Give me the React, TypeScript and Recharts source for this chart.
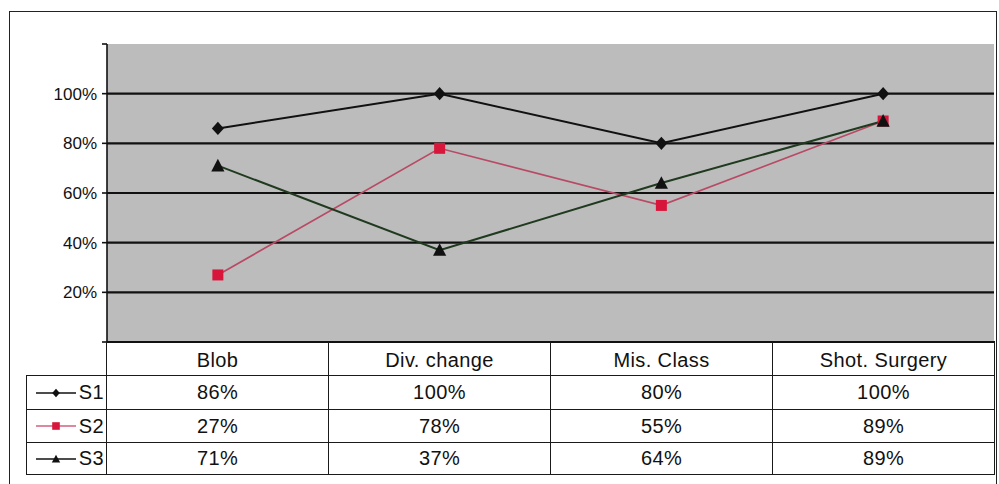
import React from 'react';
import { LineChart, Line, XAxis, YAxis, CartesianGrid, ReferenceLine } from 'recharts';

const categories = ['Blob', 'Div. change', 'Mis. Class', 'Shot. Surgery'];
const s1 = [0.86, 1.0, 0.8, 1.0];
const s2 = [0.27, 0.78, 0.55, 0.89];
const s3 = [0.71, 0.37, 0.64, 0.89];
const yTicks = [0, 0.2, 0.4, 0.6, 0.8, 1.0, 1.2];
const gridTicks = [0.2, 0.4, 0.6, 0.8, 1.0];

const FONT = '"Liberation Sans", Arial, sans-serif';

type Shape = 'diamond' | 'square' | 'triangle';

const series: { key: string; name: string; values: number[]; stroke: string; marker: Shape; markerFill: string }[] = [
  { key: 's1', name: 'S1', values: s1, stroke: '#111', marker: 'diamond', markerFill: '#111' },
  { key: 's2', name: 'S2', values: s2, stroke: '#b84a66', marker: 'square', markerFill: '#d8163c' },
  { key: 's3', name: 'S3', values: s3, stroke: '#1f3a1f', marker: 'triangle', markerFill: '#111' },
];

const data = categories.map((c, i) => ({
  name: c,
  s1: s1[i],
  s2: s2[i],
  s3: s3[i],
}));

const pct = (v: number) => `${Math.round(v * 100)}%`;

const Marker = ({ cx, cy, shape, fill, r }: { cx: number; cy: number; shape: Shape; fill: string; r: number }) => {
  if (shape === 'diamond') {
    return <polygon points={`${cx},${cy - r * 1.1} ${cx + r},${cy} ${cx},${cy + r * 1.1} ${cx - r},${cy}`} fill={fill} />;
  }
  if (shape === 'square') {
    return <rect x={cx - r} y={cy - r} width={r * 2} height={r * 2} fill={fill} />;
  }
  return <polygon points={`${cx},${cy - r * 1.15} ${cx + r * 1.1},${cy + r * 0.95} ${cx - r * 1.1},${cy + r * 0.95}`} fill={fill} />;
};

const makeDot = (shape: Shape, fill: string) => (props: any) => {
  const { cx, cy, index } = props;
  if (cx == null || cy == null) return <g key={index} />;
  return <Marker key={index} cx={cx} cy={cy} shape={shape} fill={fill} r={shape === 'square' ? 5.5 : 6} />;
};

const border = '1.6px solid #1a1a1a';

const cellBase: React.CSSProperties = {
  display: 'flex',
  alignItems: 'center',
  justifyContent: 'center',
  fontFamily: FONT,
  fontSize: 20,
  letterSpacing: 0.4,
  color: '#111',
  borderRight: border,
  borderBottom: border,
  boxSizing: 'border-box',
};

const DataTable = () => (
  <div
    style={{
      position: 'absolute',
      left: 26,
      top: 341,
      width: 969,
      height: 134,
      display: 'grid',
      gridTemplateColumns: '81px repeat(4, 1fr)',
      gridTemplateRows: '35px 34px 33px 32px',
    }}
  >
    <div style={{ ...cellBase, borderBottom: border, borderRight: border }} />
    {categories.map((c) => (
      <div key={c} style={{ ...cellBase, borderTop: '2.2px solid #111', paddingTop: 2 }}>
        {c}
      </div>
    ))}
    {series.map((s) => (
      <React.Fragment key={s.key}>
        <div style={{ ...cellBase, borderLeft: border, justifyContent: 'flex-end', paddingRight: 2 }}>
          <svg width={46} height={20} style={{ marginRight: 1 }}>
            <line x1={4} y1={10} x2={44} y2={10} stroke={s.key === 's2' ? '#d06080' : '#111'} strokeWidth={1.6} />
            <Marker cx={24} cy={10} shape={s.marker} fill={s.markerFill} r={3.8} />
          </svg>
          {s.name}
        </div>
        {s.values.map((v, i) => (
          <div key={i} style={cellBase}>
            {pct(v)}
          </div>
        ))}
      </React.Fragment>
    ))}
  </div>
);

export default function App() {
  return (
    <div style={{ position: 'absolute', left: 0, top: 0, width: 999, height: 484, background: '#fff', overflow: 'hidden' }}>
      <div
        style={{
          position: 'absolute',
          left: 9,
          top: 11,
          width: 988,
          height: 490,
          border: '1.6px solid #222',
          boxSizing: 'border-box',
        }}
      />
      <div style={{ position: 'absolute', left: 0, top: 0 }}>
        <LineChart width={999} height={343} data={data} margin={{ top: 44, right: 5, bottom: 1, left: 0 }}>
          <CartesianGrid fill="#bdbcbc" horizontal={false} vertical={false} />
          <XAxis dataKey="name" scale="band" hide />
          <YAxis
            domain={[0, 1.2]}
            ticks={yTicks}
            interval={0}
            width={107}
            tickSize={5}
            tickMargin={5}
            axisLine={{ stroke: '#111', strokeWidth: 1.6 }}
            tickLine={{ stroke: '#111', strokeWidth: 1.6 }}
            tick={{ fontFamily: FONT, fontSize: 17, fill: '#111' }}
            tickFormatter={(v: number) => (v > 0.01 && v < 1.1 ? pct(v) : '')}
          />
          <YAxis yAxisId="r" orientation="right" width={0} domain={[0, 1.2]} tick={false} tickLine={false} axisLine={{ stroke: '#333', strokeWidth: 1.6 }} />
          {gridTicks.map((t) => (
            <ReferenceLine key={t} y={t} stroke="#111" strokeWidth={2.2} />
          ))}
          {series.map((s) => (
            <Line
              key={s.key}
              dataKey={s.key}
              type="linear"
              stroke={s.stroke}
              strokeWidth={s.key === 's2' ? 1.7 : 2}
              dot={makeDot(s.marker, s.markerFill)}
              activeDot={false}
              isAnimationActive={false}
            />
          ))}
        </LineChart>
      </div>
      <DataTable />
    </div>
  );
}
